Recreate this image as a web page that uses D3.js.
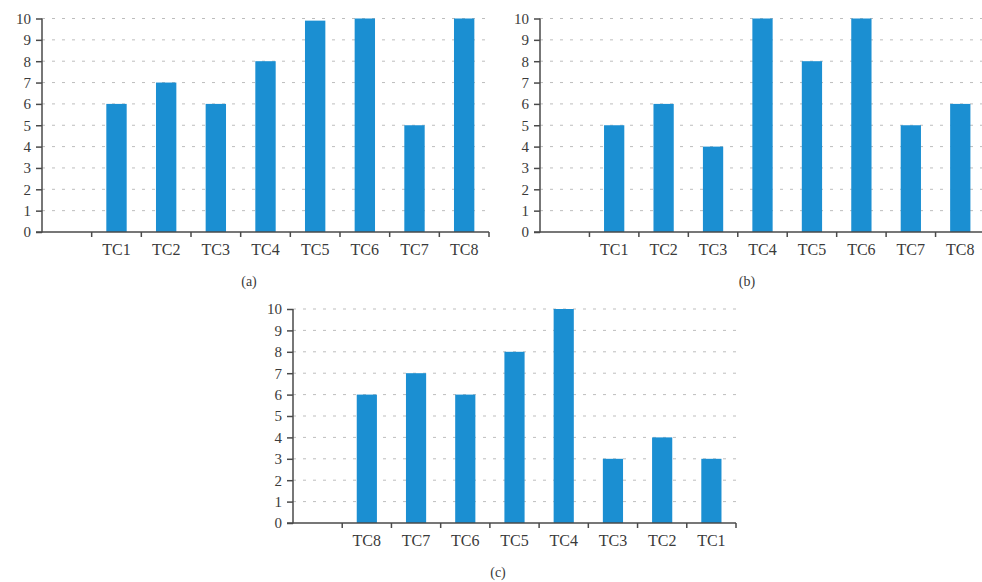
<!DOCTYPE html>
<html>
<head>
<meta charset="utf-8">
<script src="https://cdn.jsdelivr.net/npm/d3@7"></script>
<style>
  body { margin: 0; background: #fff; }
  svg { display: block; }
</style>
</head>
<body>
<svg id="chart" width="982" height="582"></svg>
<script>
// data
const catsAB = ["TC1", "TC2", "TC3", "TC4", "TC5", "TC6", "TC7", "TC8"];
const catsC = ["TC8", "TC7", "TC6", "TC5", "TC4", "TC3", "TC2", "TC1"];
const valuesA = [6, 7, 6, 8, 9.9, 10, 5, 10];
const valuesB = [5, 6, 4, 10, 8, 10, 5, 6];
const valuesC = [6, 7, 6, 8, 10, 3, 4, 3];
const yTicks = [0, 1, 2, 3, 4, 5, 6, 7, 8, 9, 10];

const barColor = "#1b8fd2";
const axisColor = "#4a4a4a";
const serif = "'Liberation Serif', 'Times New Roman', 'DejaVu Serif', serif";

const svg = d3.select("#chart");

function drawPanel(cfg, cats, values) {
    const g = svg.append("g")
        .attr("transform", `translate(${cfg.left}, ${cfg.top})`);
    const w = cfg.width, h = cfg.height;

    // empty first slot before the categories
    const domain = [""].concat(cats);
    const x = d3.scaleBand()
        .domain(domain)
        .range([0, w])
        .paddingInner(0.59)
        .paddingOuter(0.295);
    const y = d3.scaleLinear().domain([0, 10]).range([h, 0]);
    const step = x.step();

    // dashed grid
    g.append("g")
        .selectAll("line")
        .data(yTicks.filter(d => d > 0))
        .join("line")
        .attr("x1", 0).attr("x2", w)
        .attr("y1", d => y(d)).attr("y2", d => y(d))
        .attr("stroke", "#bdbdbd")
        .attr("stroke-width", 1)
        .attr("stroke-dasharray", "3,7");

    // bars
    g.append("g")
        .selectAll("rect")
        .data(cats.map((c, i) => ({ key: c, value: values[i] })))
        .join("rect")
        .attr("x", d => x(d.key))
        .attr("y", d => y(d.value))
        .attr("width", x.bandwidth())
        .attr("height", d => h - y(d.value))
        .attr("fill", barColor);

    // y axis
    const yaxis = d3.axisLeft(y).tickValues(yTicks).tickSize(6).tickPadding(5);
    const yg = g.append("g").call(yaxis)
        .attr("font-family", serif)
        .attr("font-size", 15);
    yg.select(".domain").attr("stroke", axisColor).attr("stroke-width", 1.5)
        .attr("d", `M0,${h + 0.5}V0`);
    yg.selectAll(".tick line").attr("stroke", axisColor).attr("stroke-width", 1.5);
    yg.selectAll(".tick text").attr("fill", "#3a3a3a");

    // x axis with ticks at slot boundaries
    const xg = g.append("g").attr("transform", `translate(0, ${h})`);
    xg.append("line")
        .attr("x1", -6).attr("x2", w)
        .attr("stroke", axisColor).attr("stroke-width", 1.5);
    xg.selectAll(".bound")
        .data(domain.slice(1).concat(["end"]))
        .join("line")
        .attr("class", "bound")
        .attr("x1", (d, i) => (i + 1) * step).attr("x2", (d, i) => (i + 1) * step)
        .attr("y1", 0).attr("y2", 5)
        .attr("stroke", axisColor).attr("stroke-width", 1.5);
    xg.selectAll(".lab")
        .data(cats)
        .join("text")
        .attr("class", "lab")
        .attr("x", d => x(d) + x.bandwidth() / 2)
        .attr("y", 23)
        .attr("text-anchor", "middle")
        .attr("font-family", serif)
        .attr("font-size", 16)
        .attr("fill", "#3a3a3a")
        .text(d => d);

    svg.append("text")
        .attr("x", cfg.capX)
        .attr("y", cfg.capY)
        .attr("text-anchor", "middle")
        .attr("font-family", serif)
        .attr("font-size", 14)
        .attr("fill", "#3a3a3a")
        .text(cfg.caption);
}

drawPanel({ left: 42, top: 18.5, width: 447, height: 213.5, caption: "(a)", capX: 249, capY: 286 }, catsAB, valuesA);
drawPanel({ left: 540, top: 18.5, width: 445, height: 213.5, caption: "(b)", capX: 747, capY: 286 }, catsAB, valuesB);
drawPanel({ left: 293, top: 309, width: 443, height: 214, caption: "(c)", capX: 498, capY: 577 }, catsC, valuesC);
</script>
</body>
</html>
